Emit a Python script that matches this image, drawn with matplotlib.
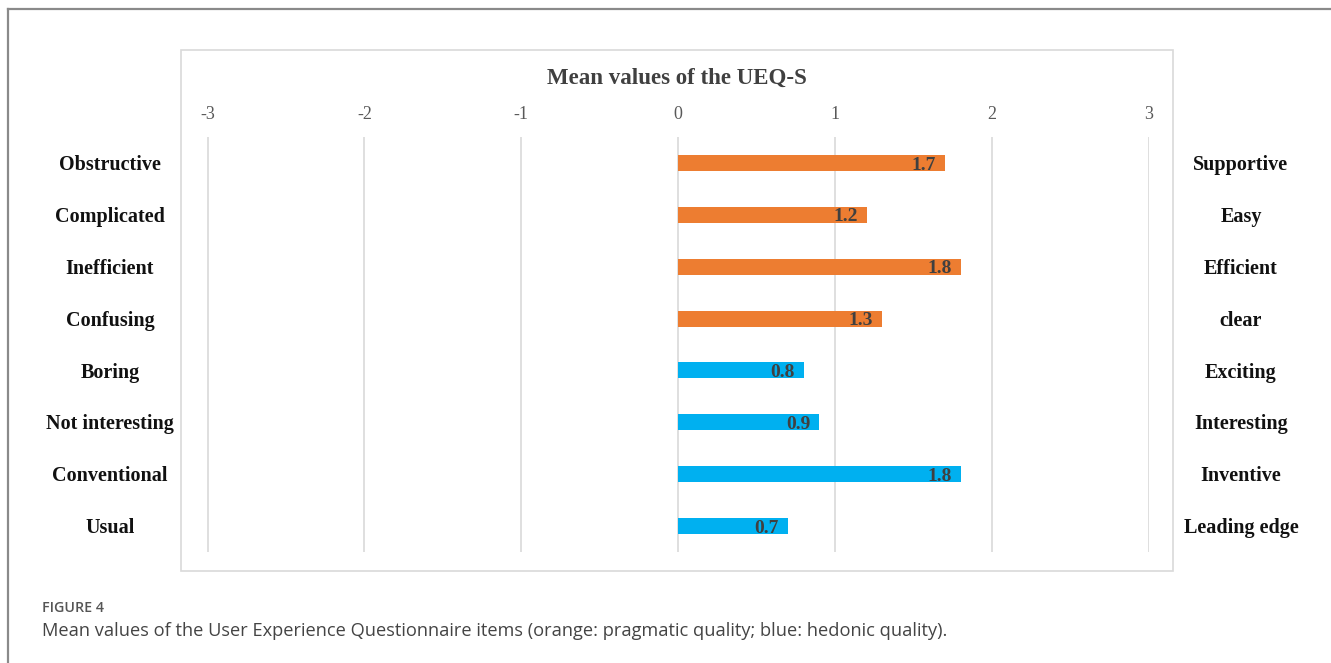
import matplotlib
matplotlib.use("Agg")
import matplotlib.pyplot as plt
from matplotlib.transforms import blended_transform_factory
from matplotlib.patches import Rectangle
from matplotlib.lines import Line2D

# ---- data ----
left_labels = ["Obstructive", "Complicated", "Inefficient", "Confusing",
               "Boring", "Not interesting", "Conventional", "Usual"]
right_labels = ["Supportive", "Easy", "Efficient", "clear",
                "Exciting", "Interesting", "Inventive", "Leading edge"]
values = [1.7, 1.2, 1.8, 1.3, 0.8, 0.9, 1.8, 0.7]
groups = ["pragmatic"] * 4 + ["hedonic"] * 4
xticks = [-3, -2, -1, 0, 1, 2, 3]
title = "Mean values of the UEQ-S"
caption_head = "FIGURE 4"
caption_text = ("Mean values of the User Experience Questionnaire items "
                "(orange: pragmatic quality; blue: hedonic quality).")

colors = {"pragmatic": "#ED7D31", "hedonic": "#00B0F0"}

W, H = 1331, 663
fig = plt.figure(figsize=(W / 100, H / 100), dpi=100)
fig.patch.set_facecolor("white")

def fx(px):
    return px / W

def fy(py):
    return 1 - py / H

# outer frame (top and left lines)
fig.add_artist(Line2D([fx(8), fx(8)], [fy(9), 0], color="#8a8a8a", lw=1.6,
                      transform=fig.transFigure))
fig.add_artist(Line2D([fx(8), 1], [fy(9), fy(9)], color="#8a8a8a", lw=1.6,
                      transform=fig.transFigure))

# inner chart box
fig.add_artist(Rectangle((fx(181), fy(571)), fx(1173) - fx(181), fy(50) - fy(571),
                         transform=fig.transFigure, fill=False,
                         edgecolor="#d9d9d9", lw=1.2))

ax = fig.add_axes([fx(207.5), fy(552), fx(1149) - fx(207.5), fy(137) - fy(552)])
ax.set_xlim(-3, 3)
n = len(values)
ax.set_ylim(n - 0.5, -0.5)
for s in ax.spines.values():
    s.set_visible(False)
ax.set_facecolor("none")

ypos = list(range(n))
bar_colors = [colors[g] for g in groups]
ax.barh(ypos, values, height=0.31, color=bar_colors, zorder=3)

ax.set_xticks(xticks)
ax.set_xticklabels([str(t) for t in xticks], family="Liberation Serif",
                   fontsize=13, color="#595959")
ax.xaxis.tick_top()
ax.tick_params(axis="x", length=0, pad=10)
ax.set_yticks([])
ax.grid(axis="x", color="#d9d9d9", lw=1.2, zorder=0)

# value labels inside the end of bars
for y, v in zip(ypos, values):
    ax.annotate(f"{v:.1f}", xy=(v, y), xytext=(-6.5, -1.5),
                textcoords="offset points", ha="right", va="center",
                family="Liberation Serif", fontweight="bold", fontsize=14,
                color="#404040", zorder=4)

# category labels
tr = blended_transform_factory(fig.transFigure, ax.transData)
for y, l, r in zip(ypos, left_labels, right_labels):
    ax.text(fx(110), y + 0.04, l, transform=tr, ha="center", va="center",
            family="Liberation Serif", fontweight="bold", fontsize=14.5,
            color="#111111")
    ax.text(fx(1241), y + 0.04, r, transform=tr, ha="center", va="center",
            family="Liberation Serif", fontweight="bold", fontsize=14.5,
            color="#111111")

fig.text(fx(677), fy(78), title, ha="center", va="center",
         family="Liberation Serif", fontweight="bold", fontsize=16.5,
         color="#404040")

fig.text(fx(42), fy(608), caption_head, ha="left", va="center",
         family="Open Sans", fontweight="semibold", fontsize=10.3,
         color="#555555")
fig.text(fx(42), fy(631), caption_text, ha="left", va="center",
         family="Open Sans", fontsize=13.15, color="#444444")

fig.savefig("out.png", dpi=100, facecolor="white")
